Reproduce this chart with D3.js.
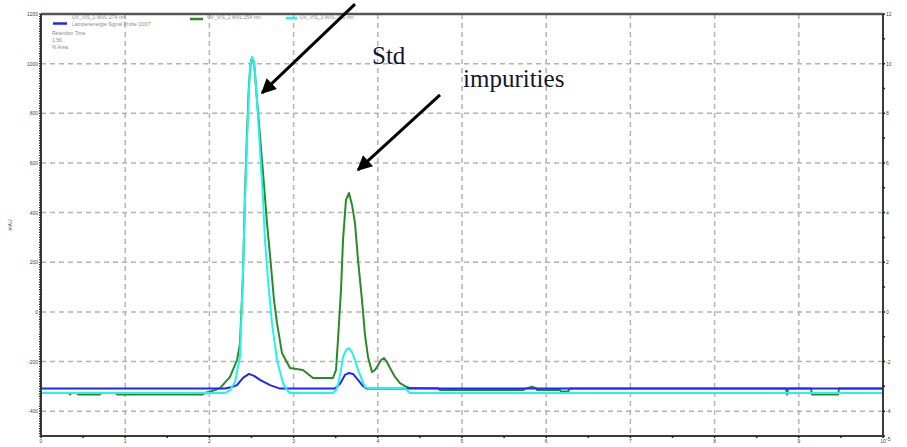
<!DOCTYPE html>
<html>
<head>
<meta charset="utf-8">
<script src="https://cdn.jsdelivr.net/npm/d3@7"></script>
<style>
    body { margin: 0; background: #fff; }
    svg { display: block; }
    .tick-lbl { font-family: "Liberation Sans", Arial, sans-serif; font-size: 5px; fill: #444; }
    .legend-txt { font-family: "Liberation Sans", Arial, sans-serif; font-size: 5px; fill: #8a8a8a; }
    .anno { font-family: "Liberation Serif", "Times New Roman", serif; font-size: 25px; fill: #151530; }
</style>
</head>
<body>
<div id="chart"></div>
<script>

// retention time (min) / signal (mAU)
const greenTime = [0, 0.333, 0.344, 0.362, 0.428, 0.439, 0.701, 0.713, 0.891, 0.903, 1.912, 1.948, 2.031, 2.126, 2.245, 2.328, 2.363, 2.399, 2.423, 2.447, 2.470, 2.494, 2.530, 2.565, 2.637, 2.684, 2.720, 2.767, 2.803, 2.862, 2.957, 3.112, 3.171, 3.230, 3.468, 3.504, 3.527, 3.563, 3.587, 3.622, 3.658, 3.694, 3.729, 3.765, 3.812, 3.848, 3.884, 3.931, 3.967, 3.990, 4.038, 4.074, 4.109, 4.145, 4.204, 4.264, 4.323, 4.382, 4.715, 4.739, 5.724, 5.772, 5.831, 5.879, 5.891, 6.164, 6.176, 6.259, 6.283, 8.848, 8.860, 8.872, 9.145, 9.157, 9.466, 9.477, 10];
const greenSignal = [-327, -327, -333, -327, -327, -333, -333, -327, -327, -333, -333, -327, -319, -307, -262, -194, -130, 150, 480, 725, 918, 1015, 1007, 854, 560, 358, 229, 48, -45, -166, -226, -234, -250, -266, -266, -234, -113, 88, 290, 451, 479, 431, 358, 209, 48, -93, -182, -242, -234, -222, -194, -186, -202, -226, -262, -287, -299, -307, -308, -315, -315, -307, -301, -307, -315, -315, -321, -321, -309, -309, -333, -309, -309, -333, -333, -309, -309];

const blueTime = [0, 2.185, 2.268, 2.328, 2.399, 2.470, 2.530, 2.601, 2.720, 2.838, 3.492, 3.551, 3.610, 3.658, 3.705, 3.765, 3.824, 3.872, 10];
const blueSignal = [-309, -309, -303, -295, -266, -250, -258, -274, -295, -309, -309, -290, -254, -246, -250, -274, -299, -309, -309];

const cyanTime = [0, 2.185, 2.245, 2.304, 2.363, 2.399, 2.423, 2.447, 2.470, 2.482, 2.506, 2.524, 2.542, 2.565, 2.601, 2.637, 2.660, 2.696, 2.743, 2.803, 2.874, 2.922, 2.957, 3.468, 3.504, 3.527, 3.563, 3.587, 3.622, 3.658, 3.694, 3.729, 3.765, 3.812, 3.848, 3.884, 4.323, 4.382, 10];
const cyanSignal = [-327, -327, -315, -283, -182, 157, 451, 692, 894, 987, 1027, 1015, 962, 854, 652, 451, 290, 128, -45, -194, -287, -315, -327, -327, -315, -295, -234, -182, -154, -146, -162, -194, -234, -274, -303, -307, -307, -327, -327];

const xTicks = [0, 1, 2, 3, 4, 5, 6, 7, 8, 9, 10];
const yTicks = [-400, -200, 0, 200, 400, 600, 800, 1000, 1200];
const rightTicks = [-5, -4, -2, 0, 2, 4, 6, 8, 10, 12];

const legendNames = ["UV_VIS_1 WVL:274 nm", "UV_VIS_2 WVL:254 nm", "UV_VIS_3 WVL:220 nm"];
const legendInfo = ["Lampenenergie Signal Probe 10/07", "Retention Time", "1.56", "% Area"];

const annotations = [
    {label: "Std", tx: 3.931, tv: 999, x1: 3.729, v1: 1240, x2: 2.625, v2: 882},
    {label: "impurities", tx: 5.012, tv: 906, x1: 4.739, v1: 874, x2: 3.765, v2: 572}
];

const W = 907, H = 447;
const margin = {top: 14, right: 24, bottom: 11, left: 41};

var svg = d3.select("#chart").append("svg")
    .attr("width", W)
    .attr("height", H);

svg.append("rect").attr("width", W).attr("height", H).attr("fill", "#fff");

var x = d3.scaleLinear().domain([0, 10]).range([margin.left, W - margin.right]);
var y = d3.scaleLinear().domain([-500, 1200]).range([H - margin.bottom, margin.top]);
var yRight = d3.scaleLinear().domain([-5, 12]).range([H - margin.bottom, margin.top]);

// dashed grid
svg.append("g").selectAll("line")
    .data(xTicks.slice(1, -1))
    .enter().append("line")
        .attr("x1", d => x(d)).attr("x2", d => x(d))
        .attr("y1", margin.top).attr("y2", H - margin.bottom)
        .attr("stroke", "#b4b4b4")
        .attr("stroke-width", 1.5)
        .attr("stroke-dasharray", "5,4");

svg.append("g").selectAll("line")
    .data(yTicks.slice(0, -1))
    .enter().append("line")
        .attr("x1", margin.left).attr("x2", W - margin.right)
        .attr("y1", d => y(d)).attr("y2", d => y(d))
        .attr("stroke", "#b4b4b4")
        .attr("stroke-width", 1.5)
        .attr("stroke-dasharray", "5,4");

// traces
svg.append("clipPath").attr("id", "plot-clip")
    .append("rect")
        .attr("x", margin.left).attr("y", margin.top)
        .attr("width", x(10) - x(0)).attr("height", y(-500) - y(1200));

var line = d3.line()
    .x(d => x(d[0]))
    .y(d => y(d[1]));

var traces = [
    {t: greenTime, v: greenSignal, color: "#2a8a2a"},
    {t: blueTime, v: blueSignal, color: "#2424f4"},
    {t: cyanTime, v: cyanSignal, color: "#22f2f2"}
];

svg.append("g").attr("clip-path", "url(#plot-clip)")
    .selectAll("path")
    .data(traces)
    .enter().append("path")
        .attr("d", d => line(d3.zip(d.t, d.v)))
        .attr("fill", "none")
        .attr("stroke", d => d.color)
        .attr("stroke-width", 2)
        .attr("stroke-linejoin", "round");

// frame
var frame = svg.append("g").attr("stroke", "#3a3a3a").attr("stroke-width", 2);
frame.append("line").attr("x1", margin.left).attr("x2", W - margin.right)
    .attr("y1", margin.top).attr("y2", margin.top).attr("stroke", "#555").attr("stroke-width", 2.5);
frame.append("line").attr("x1", margin.left).attr("x2", W - margin.right)
    .attr("y1", H - margin.bottom).attr("y2", H - margin.bottom);
frame.append("line").attr("x1", margin.left).attr("x2", margin.left)
    .attr("y1", margin.top).attr("y2", H - margin.bottom);
frame.append("line").attr("x1", W - margin.right).attr("x2", W - margin.right)
    .attr("y1", margin.top).attr("y2", H - margin.bottom);

// left axis: dense ruler ticks + labels
svg.append("g").selectAll("line")
    .data(d3.range(-500, 1201, 10))
    .enter().append("line")
        .attr("x1", margin.left - 2).attr("x2", margin.left)
        .attr("y1", d => y(d)).attr("y2", d => y(d))
        .attr("stroke", "#222")
        .attr("stroke-width", 1.2);

svg.append("g").selectAll("text")
    .data(yTicks)
    .enter().append("text")
        .attr("class", "tick-lbl")
        .attr("x", margin.left - 3)
        .attr("y", d => y(d) + 2)
        .attr("text-anchor", "end")
        .text(d => d);

svg.append("text")
    .attr("class", "tick-lbl")
    .attr("transform", "translate(12," + y(350) + ") rotate(-90)")
    .attr("text-anchor", "middle")
    .text("mAU");

// right axis
svg.append("g").selectAll("line")
    .data(d3.range(-5, 13, 1))
    .enter().append("line")
        .attr("x1", W - margin.right).attr("x2", W - margin.right + 2)
        .attr("y1", d => yRight(d)).attr("y2", d => yRight(d))
        .attr("stroke", "#222")
        .attr("stroke-width", 1.5);

svg.append("g").selectAll("text")
    .data(rightTicks)
    .enter().append("text")
        .attr("class", "tick-lbl")
        .attr("x", W - margin.right + 3)
        .attr("y", d => yRight(d) + (d == -5 ? 5 : 2))
        .text(d => d);

// bottom axis
svg.append("g").selectAll("line")
    .data(d3.range(0, 10.01, 0.5))
    .enter().append("line")
        .attr("x1", d => x(d)).attr("x2", d => x(d))
        .attr("y1", H - margin.bottom).attr("y2", H - margin.bottom + 2)
        .attr("stroke", "#222")
        .attr("stroke-width", 1.5);

svg.append("g").selectAll("text")
    .data(xTicks)
    .enter().append("text")
        .attr("class", "tick-lbl")
        .attr("x", d => x(d))
        .attr("y", H - margin.bottom + 7)
        .attr("text-anchor", "middle")
        .text(d => d);

// legend
var legendSwatch = [
    {x: 53, y: 23.5, w: 14, color: "#2424f4"},
    {x: 190, y: 19, w: 13, color: "#2a8a2a"},
    {x: 286, y: 18, w: 11, color: "#22f2f2"}
];
svg.append("g").selectAll("line")
    .data(legendSwatch)
    .enter().append("line")
        .attr("x1", d => d.x).attr("x2", d => d.x + d.w)
        .attr("y1", d => d.y).attr("y2", d => d.y)
        .attr("stroke", d => d.color)
        .attr("stroke-width", 2.5);

svg.append("g").selectAll("text")
    .data(legendNames)
    .enter().append("text")
        .attr("class", "legend-txt")
        .attr("x", (d, i) => [72, 207, 300][i])
        .attr("y", 19)
        .text(d => d);

svg.append("g").selectAll("text")
    .data(legendInfo)
    .enter().append("text")
        .attr("class", "legend-txt")
        .attr("x", (d, i) => i == 0 ? 72 : 52)
        .attr("y", (d, i) => [26, 35, 42, 49][i])
        .text(d => d);

// annotations
svg.append("defs").append("marker")
    .attr("id", "arrowhead")
    .attr("viewBox", "0 0 10 10")
    .attr("refX", 9).attr("refY", 5)
    .attr("markerWidth", 6).attr("markerHeight", 5)
    .attr("markerUnits", "strokeWidth")
    .attr("orient", "auto")
    .append("path")
        .attr("d", "M0,0 L10,5 L0,10 Z")
        .attr("fill", "#000");

svg.append("g").selectAll("line")
    .data(annotations)
    .enter().append("line")
        .attr("x1", d => x(d.x1)).attr("y1", d => y(d.v1))
        .attr("x2", d => x(d.x2)).attr("y2", d => y(d.v2))
        .attr("stroke", "#000")
        .attr("stroke-width", 3)
        .attr("marker-end", "url(#arrowhead)");

svg.append("g").selectAll("text")
    .data(annotations)
    .enter().append("text")
        .attr("class", "anno")
        .attr("x", d => x(d.tx))
        .attr("y", d => y(d.tv))
        .text(d => d.label);

</script>
</body>
</html>
